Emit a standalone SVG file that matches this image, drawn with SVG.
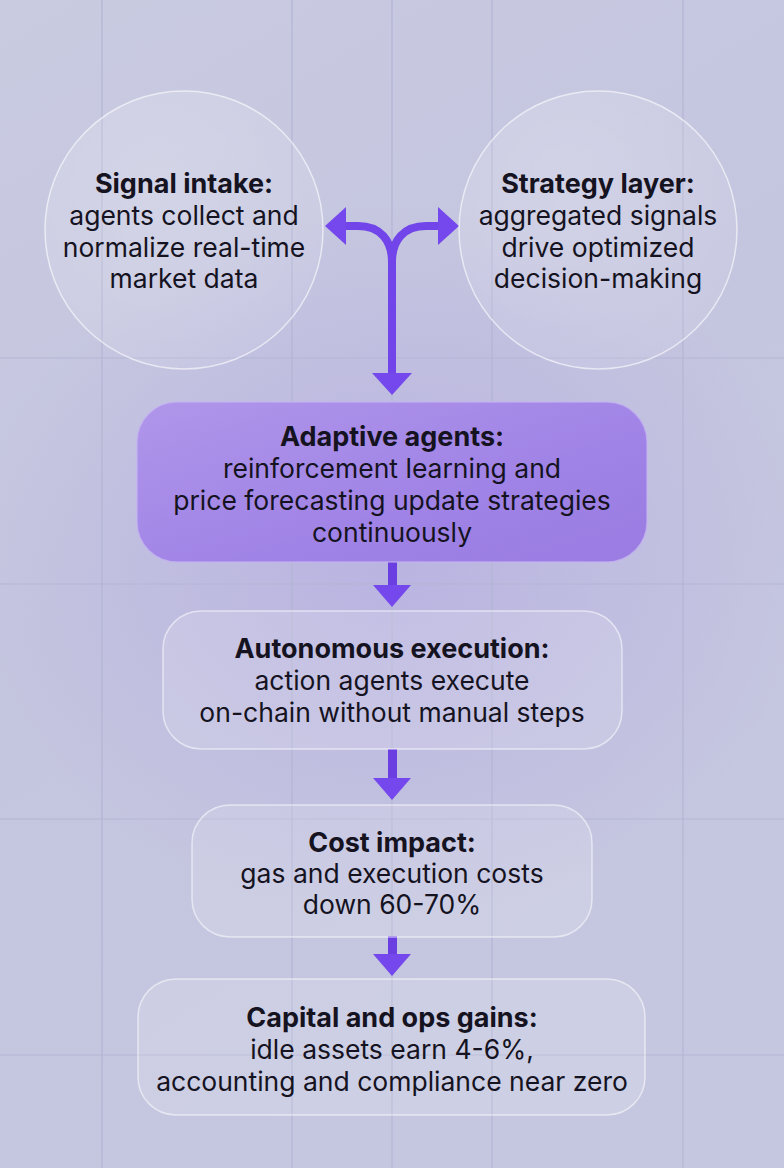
<svg xmlns="http://www.w3.org/2000/svg" width="784" height="1168" viewBox="0 0 784 1168">
  <defs>
    <linearGradient id="bg" x1="0" y1="0" x2="0.4" y2="1">
      <stop offset="0" stop-color="#c9cbe1"/>
      <stop offset="0.5" stop-color="#c4c5df"/>
      <stop offset="1" stop-color="#c5c7e0"/>
    </linearGradient>
    <radialGradient id="glow" cx="0.5" cy="0.5" r="0.5">
      <stop offset="0" stop-color="#9f86e6" stop-opacity="0.28"/>
      <stop offset="1" stop-color="#9f86e6" stop-opacity="0"/>
    </radialGradient>
    <linearGradient id="purple" x1="0" y1="0" x2="1" y2="1">
      <stop offset="0" stop-color="#b096ea"/>
      <stop offset="0.6" stop-color="#a083e6"/>
      <stop offset="1" stop-color="#9a7ce2"/>
    </linearGradient>
    <radialGradient id="circ" cx="0.4" cy="0.35" r="0.7">
      <stop offset="0" stop-color="#ffffff" stop-opacity="0.22"/>
      <stop offset="1" stop-color="#ffffff" stop-opacity="0.08"/>
    </radialGradient>
  </defs>
  <style>
    .grid { stroke: #b3b5d3; stroke-width: 1.2; }
    .glass { fill: #ffffff; fill-opacity: 0.14; stroke: #ffffff; stroke-opacity: 0.55; stroke-width: 1.5; }
    .title { font-family: Inter, "Liberation Sans", sans-serif; font-weight: 700; font-size: 27px; fill: #15131f; text-anchor: middle; }
    .body { font-family: Inter, "Liberation Sans", sans-serif; font-weight: 400; font-size: 26.5px; fill: #15131f; text-anchor: middle; }
    .stem { fill: none; stroke: #7145ea; stroke-width: 8; }
    .ah { fill: #7448ec; }
  </style>

  <rect width="784" height="1168" fill="url(#bg)"/>
  <ellipse cx="392" cy="560" rx="420" ry="360" fill="url(#glow)"/>

  <g id="grid">
    <line class="grid" x1="102" y1="0" x2="102" y2="1168"/>
    <line class="grid" x1="292" y1="0" x2="292" y2="1168"/>
    <line class="grid" x1="392" y1="0" x2="392" y2="1168"/>
    <line class="grid" x1="492" y1="0" x2="492" y2="1168"/>
    <line class="grid" x1="683" y1="0" x2="683" y2="1168"/>
    <line class="grid" x1="0" y1="358" x2="784" y2="358"/>
    <line class="grid" x1="0" y1="584" x2="784" y2="584"/>
    <line class="grid" x1="0" y1="819" x2="784" y2="819"/>
    <line class="grid" x1="0" y1="1055" x2="784" y2="1055"/>
  </g>

  <g id="connectors">
    <path class="stem" d="M392,375 L392,262 C392,240 380,226 358,226 L342,226"/>
    <path class="stem" d="M392,262 C392,240 404,226 426,226 L442,226"/>
    <polygon class="ah" points="325,226 346,207 346,245"/>
    <polygon class="ah" points="459,226 438,207 438,245"/>
    <polygon class="ah" points="392,395 372,373 412,373"/>
    <rect x="388" y="560" width="9" height="27" fill="#6a3ee0"/>
    <polygon class="ah" points="392,607 373,585 411,585"/>
    <rect x="388" y="749" width="9" height="30" fill="#6a3ee0"/>
    <polygon class="ah" points="392,800 373,778 411,778"/>
    <rect x="388" y="936" width="9" height="19" fill="#6a3ee0"/>
    <polygon class="ah" points="392,976 373,954 411,954"/>
  </g>

  <g id="signal-intake">
    <circle cx="184" cy="230" r="139" fill="url(#circ)" stroke="#ffffff" stroke-opacity="0.6" stroke-width="1.5"/>
    <text class="title" x="184" y="193">Signal intake:</text>
    <text class="body" x="184" y="225">agents collect and</text>
    <text class="body" x="184" y="257">normalize real-time</text>
    <text class="body" x="184" y="288">market data</text>
  </g>

  <g id="strategy-layer">
    <circle cx="598" cy="230" r="139" fill="url(#circ)" stroke="#ffffff" stroke-opacity="0.6" stroke-width="1.5"/>
    <text class="title" x="598" y="193">Strategy layer:</text>
    <text class="body" x="598" y="225">aggregated signals</text>
    <text class="body" x="598" y="257">drive optimized</text>
    <text class="body" x="598" y="288">decision-making</text>
  </g>

  <g id="adaptive-agents">
    <rect x="137" y="402" width="510" height="160" rx="40" fill="url(#purple)" stroke="#c4b2f2" stroke-opacity="0.7" stroke-width="1.5"/>
    <text class="title" x="392" y="446">Adaptive agents:</text>
    <text class="body" x="392" y="478">reinforcement learning and</text>
    <text class="body" x="392" y="510">price forecasting update strategies</text>
    <text class="body" x="392" y="542">continuously</text>
  </g>

  <g id="autonomous-execution">
    <rect class="glass" x="163" y="611" width="459" height="138" rx="38"/>
    <text class="title" x="392" y="658">Autonomous execution:</text>
    <text class="body" x="392" y="690">action agents execute</text>
    <text class="body" x="392" y="722">on-chain without manual steps</text>
  </g>

  <g id="cost-impact">
    <rect class="glass" x="192" y="805" width="400" height="132" rx="38"/>
    <text class="title" x="392" y="852">Cost impact:</text>
    <text class="body" x="392" y="883">gas and execution costs</text>
    <text class="body" x="392" y="914">down 60-70%</text>
  </g>

  <g id="capital-ops-gains">
    <rect class="glass" x="138" y="979" width="507" height="136" rx="38"/>
    <text class="title" x="392" y="1027">Capital and ops gains:</text>
    <text class="body" x="392" y="1059">idle assets earn 4-6%,</text>
    <text class="body" x="392" y="1091">accounting and compliance near zero</text>
  </g>
</svg>
